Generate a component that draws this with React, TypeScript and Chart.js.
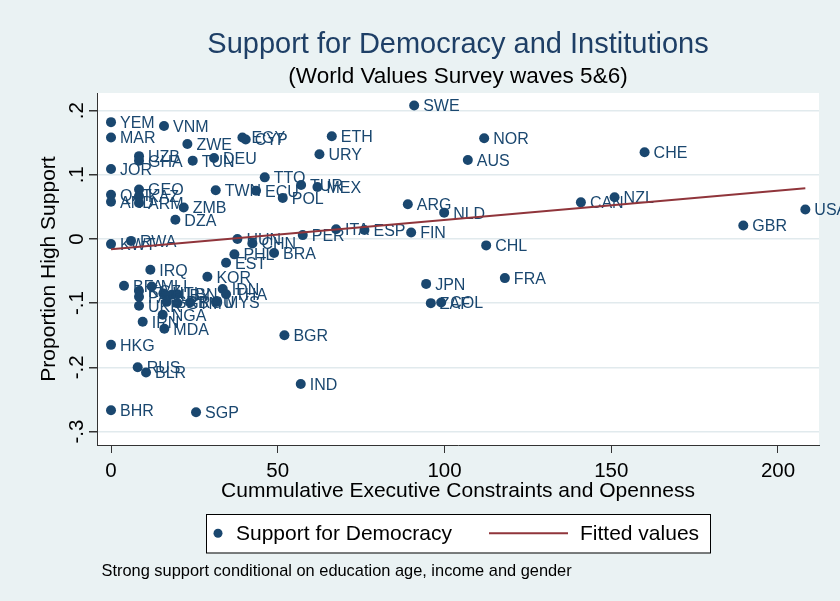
import React, { useEffect, useRef } from "react";
import { Chart, registerables } from "chart.js";

Chart.register(...registerables);

// ---- data ----
const countries = [
  "YEM", "MAR", "JOR", "QAT", "AND", "KWT", "HKG", "BHR",
  "UZB", "GHA", "GEO", "KAZ", "ARM", "KGZ", "PAK", "UKR", "RUS",
  "VNM", "ZWE", "TUN", "DEU", "ZMB", "DZA", "RWA", "IRQ", "BFA",
  "MLI", "HTI", "LBY", "LBN", "SRB", "GTM", "ROU", "IRN", "NGA",
  "MDA", "BLR", "SGP", "KOR", "IDN", "THA", "MYS", "EST", "PHL",
  "HUN", "CHN", "BRA", "PER", "ITA", "ESP", "BGR", "IND", "EGY",
  "CYP", "ETH", "URY", "TTO", "TUR", "MEX", "TWN", "ECU", "POL",
  "SWE", "NOR", "AUS", "ARG", "NLD", "CAN", "NZL", "FIN", "CHL",
  "FRA", "JPN", "ZAF", "COL", "CHE", "GBR", "USA",
];
const constraints = [
  0, 0, 0, 0, 0, 0, 0, 0,
  8.4, 8.4, 8.4, 8.4, 8.4, 8.4, 8.4, 8.4, 8.0,
  15.9, 22.9, 24.5, 30.9, 21.8, 19.3, 6.0, 11.8, 3.9,
  12.2, 15.7, 18.2, 19.9, 16.7, 19.9, 23.7, 9.5, 15.5,
  16.0, 10.5, 25.5, 28.9, 33.5, 34.5, 31.5, 34.5, 37.0,
  37.9, 42.4, 48.9, 57.5, 67.5, 76.0, 52.0, 56.9, 39.4,
  40.4, 66.2, 62.5, 46.1, 57.0, 61.9, 31.4, 43.5, 51.5,
  90.9, 111.9, 107.0, 89.0, 99.9, 140.9, 151.0, 90.0, 112.5,
  118.1, 94.5, 95.9, 99.0, 160.0, 189.6, 208.2,
];
const support = [
  0.182, 0.158, 0.109, 0.069, 0.058, -0.008, -0.165, -0.267,
  0.129, 0.122, 0.077, 0.067, 0.056, -0.081, -0.09, -0.104, -0.2,
  0.176, 0.148, 0.122, 0.126, 0.049, 0.03, -0.003, -0.048, -0.073,
  -0.074, -0.085, -0.087, -0.086, -0.098, -0.1, -0.099, -0.129, -0.118,
  -0.14, -0.208, -0.27, -0.059, -0.078, -0.086, -0.098, -0.037, -0.024,
  0.0, -0.007, -0.022, 0.006, 0.015, 0.014, -0.15, -0.226, 0.158,
  0.155, 0.16, 0.132, 0.096, 0.084, 0.081, 0.076, 0.075, 0.064,
  0.208, 0.157, 0.123, 0.054, 0.041, 0.057, 0.065, 0.01, -0.01,
  -0.061, -0.07, -0.1, -0.099, 0.135, 0.021, 0.046,
];
const fitX = [0, 208.2];
const fitY = [-0.016, 0.079];

const xTickValues = [0, 50, 100, 150, 200];
const xTickLabels = ["0", "50", "100", "150", "200"];
const yTickValues = [-0.3, -0.2, -0.1, 0, 0.1, 0.2];
const yTickLabels = ["-.3", "-.2", "-.1", "0", ".1", ".2"];

const seriesLabels = ["Support for Democracy", "Fitted values"];
const titleText = "Support for Democracy and Institutions";
const subtitleText = "(World Values Survey waves 5&6)";
const xTitle = "Cummulative Executive Constraints and Openness";
const yTitle = "Proportion High Support";
const noteText = "Strong support conditional on education age, income and gender";

// ---- styles ----
const FONT = '"Liberation Sans", Arial, Helvetica, sans-serif';
const NAVY = "#1a476f";
const RED = "#90353b";
const BG = "#eaf2f3";
const GRID = "#e1eaed";
const AXIS = "#333333";

const bgPlugin = {
  id: "stataBackground",
  beforeDraw(chart: any) {
    const { ctx, chartArea } = chart;
    ctx.save();
    ctx.fillStyle = BG;
    ctx.fillRect(0, 0, chart.width, chart.height);
    ctx.fillStyle = "#ffffff";
    ctx.fillRect(chartArea.left, chartArea.top, chartArea.right - chartArea.left, chartArea.bottom - chartArea.top);
    ctx.restore();
  },
};

const pointLabelPlugin = {
  id: "pointLabels",
  afterDatasetDraw(chart: any, args: any) {
    if (args.index !== 0) return;
    const ctx = chart.ctx;
    ctx.save();
    ctx.font = `16px ${FONT}`;
    ctx.fillStyle = NAVY;
    ctx.textBaseline = "middle";
    ctx.textAlign = "left";
    args.meta.data.forEach((el: any, i: number) => {
      ctx.fillText(countries[i], el.x + 9, el.y + 1.5);
    });
    ctx.restore();
  },
};

const legendNotePlugin = {
  id: "legendNote",
  afterDraw(chart: any) {
    const { ctx, chartArea } = chart;
    const cx = (chartArea.left + chartArea.right) / 2;
    const w = 504;
    const left = cx - w / 2;
    const top = 514;
    const h = 38.5;
    const cy = top + h / 2;
    ctx.save();
    ctx.fillStyle = "#ffffff";
    ctx.fillRect(left, top, w, h);
    ctx.strokeStyle = "#000000";
    ctx.lineWidth = 1;
    ctx.strokeRect(Math.round(left) + 0.5, Math.round(top) + 0.5, w, h);
    const ds0 = chart.data.datasets[0];
    const ds1 = chart.data.datasets[1];
    // marker
    ctx.fillStyle = ds0.backgroundColor;
    ctx.beginPath();
    ctx.arc(left + 12, cy, 4.5, 0, Math.PI * 2);
    ctx.fill();
    ctx.font = `21px ${FONT}`;
    ctx.fillStyle = "#000000";
    ctx.textBaseline = "middle";
    ctx.textAlign = "left";
    ctx.fillText(ds0.label, left + 30, cy + 1);
    // line
    ctx.strokeStyle = ds1.borderColor;
    ctx.lineWidth = 2;
    ctx.beginPath();
    ctx.moveTo(left + 283, cy);
    ctx.lineTo(left + 362, cy);
    ctx.stroke();
    ctx.fillText(ds1.label, left + 374, cy + 1);
    // note
    ctx.font = `16.4px ${FONT}`;
    ctx.fillText(noteText, 101.5, 571);
    ctx.restore();
  },
};

export default function App() {
  const canvasRef = useRef<HTMLCanvasElement | null>(null);

  useEffect(() => {
    if (!canvasRef.current) return;
    Chart.defaults.font.family = FONT;
    const chart = new Chart(canvasRef.current, {
      type: "scatter",
      data: {
        datasets: [
          {
            label: seriesLabels[0],
            data: countries.map((_, i) => ({ x: constraints[i], y: support[i] })),
            pointRadius: 5,
            pointHoverRadius: 5,
            backgroundColor: NAVY,
            borderWidth: 0,
            order: 1,
          } as any,
          {
            label: seriesLabels[1],
            data: fitX.map((x, i) => ({ x, y: fitY[i] })),
            showLine: true,
            pointRadius: 0,
            borderColor: RED,
            backgroundColor: RED,
            borderWidth: 2,
            order: 0,
          } as any,
        ],
      },
      options: {
        animation: false,
        responsive: true,
        maintainAspectRatio: false,
        layout: { padding: { left: 0, right: 21, top: 0, bottom: 97.4 } },
        plugins: {
          legend: { display: false },
          tooltip: { enabled: false },
          title: {
            display: true,
            text: titleText,
            fullSize: false,
            color: "#1e3f66",
            font: { size: 29, weight: "normal" as any, family: FONT },
            padding: { top: 27.6, bottom: 0 },
          },
          subtitle: {
            display: true,
            text: subtitleText,
            fullSize: false,
            color: "#000000",
            font: { size: 22.5, family: FONT },
            padding: { top: 1.1, bottom: 2.5 },
          },
        },
        scales: {
          x: {
            type: "linear",
            min: -4.2,
            max: 212.3,
            afterBuildTicks: (s: any) => {
              s.ticks = xTickValues.map((v) => ({ value: v }));
            },
            afterFit: (s: any) => {
              s.height = 58.6;
            },
            ticks: {
              callback: (_v: any, i: number) => xTickLabels[i],
              color: "#000000",
              font: { size: 20.5, family: FONT },
              padding: 6.4,
              maxRotation: 0,
              autoSkip: false,
              includeBounds: false,
            },
            grid: { drawOnChartArea: false, drawTicks: true, tickLength: 8, tickColor: AXIS },
            border: { display: true, color: AXIS, width: 1 },
            title: { display: true, text: xTitle, color: "#000000", font: { size: 21, family: FONT }, padding: 0 },
          },
          y: {
            type: "linear",
            min: -0.321,
            max: 0.2274,
            afterBuildTicks: (s: any) => {
              s.ticks = yTickValues.map((v) => ({ value: v }));
            },
            afterFit: (s: any) => {
              s.width = 97;
            },
            ticks: {
              callback: (_v: any, i: number) => yTickLabels[i],
              color: "#000000",
              font: { size: 20.5, family: FONT },
              padding: 0,
              minRotation: 90,
              maxRotation: 90,
              crossAlign: "center",
              autoSkip: false,
              includeBounds: false,
            },
            grid: { color: GRID, drawTicks: true, tickLength: 8, tickColor: AXIS, lineWidth: 1.5 },
            border: { display: true, color: AXIS, width: 1 },
            title: { display: true, text: yTitle, color: "#000000", font: { size: 21, family: FONT }, padding: { top: 36.4, bottom: 0 } },
          },
        },
      } as any,
      plugins: [bgPlugin, pointLabelPlugin, legendNotePlugin],
    });
    return () => chart.destroy();
  }, []);

  return (
    <div style={{ position: "absolute", left: 0, top: 0, width: 840, height: 601 }}>
      <canvas ref={canvasRef} style={{ display: "block" }} />
    </div>
  );
}
